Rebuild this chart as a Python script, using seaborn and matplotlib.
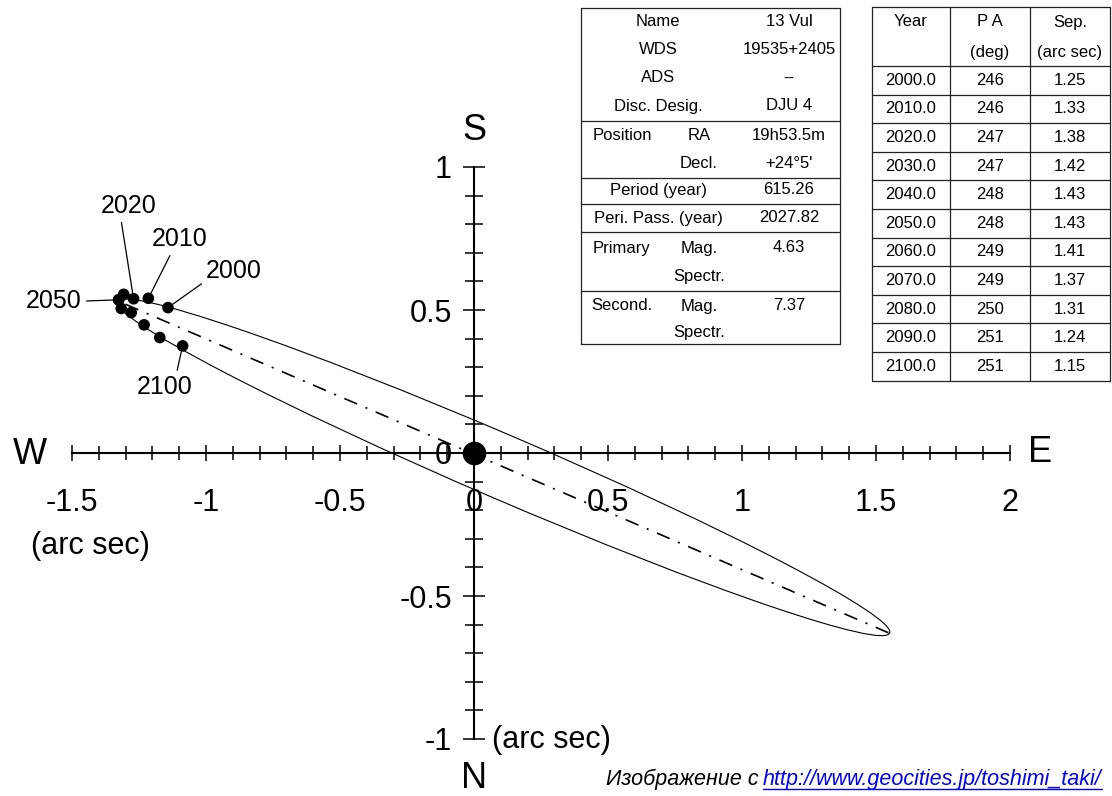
import matplotlib
matplotlib.use("Agg")
import matplotlib.pyplot as plt
from matplotlib.patches import Ellipse
from matplotlib.ticker import FixedLocator
from matplotlib.lines import Line2D
import numpy as np
import pandas as pd
import seaborn as sns

# ephemeris table (right hand side)
years = [2000.0, 2010.0, 2020.0, 2030.0, 2040.0, 2050.0, 2060.0, 2070.0, 2080.0, 2090.0, 2100.0]
pa_deg = [246, 246, 247, 247, 248, 248, 249, 249, 250, 251, 251]
sep_arcsec = [1.25, 1.33, 1.38, 1.42, 1.43, 1.43, 1.41, 1.37, 1.31, 1.24, 1.15]

# star info table
info_left = ["Name", "WDS", "ADS", "Disc. Desig.", "Position", "", "Period (year)",
             "Peri. Pass. (year)", "Primary", "", "Second.", ""]
info_mid = ["", "", "", "", "RA", "Decl.", "", "", "Mag.", "Spectr.", "Mag.", "Spectr."]
info_val = ["13 Vul", "19535+2405", "--", "DJU 4", "19h53.5m", "+24°5'", "615.26",
            "2027.82", "4.63", "", "7.37", ""]

# labelled epochs, label centres in arc sec
label_years = ["2050", "2020", "2010", "2000", "2100"]
label_x = [-1.567, -1.287, -1.097, -0.896, -1.153]
label_y = [0.531, 0.864, 0.748, 0.636, 0.231]

# apparent orbit
orbit_center = (0.11, -0.05)
orbit_major = 3.106
orbit_minor = 0.226
orbit_angle = -21.9
apsides_x = [-1.30, 1.55]
apsides_y = [0.52, -0.63]
primary_x = [0.0]
primary_y = [0.0]

x_major = [-1.5, -1.0, -0.5, 0.0, 0.5, 1.0, 1.5, 2.0]
x_major_labels = ["-1.5", "-1", "-0.5", "0", "0.5", "1", "1.5", "2"]
y_major = [-1.0, -0.5, 0.0, 0.5, 1.0]
y_major_labels = ["-1", "-0.5", "0", "0.5", "1"]

sns.set_style("white")
plt.rcParams["font.family"] = ["Liberation Sans", "DejaVu Sans"]
plt.rcParams["lines.scale_dashes"] = False
plt.rcParams["text.color"] = "black"

W, H = 1112, 796
fig = plt.figure(figsize=(W / 100, H / 100), dpi=100)
ax = fig.add_axes([0, 0, 1, 1])
ax.set_xlim(-474 / 268, (W - 474) / 268)
ax.set_ylim(-(H - 453) / 286, 453 / 286)

# positions: PA counted from N through E, S is up, E is right
pa = np.deg2rad(pa_deg)
sep = np.array(sep_arcsec)
pts = pd.DataFrame({"year": years, "x": sep * np.sin(pa), "y": -sep * np.cos(pa)})

ax.add_patch(Ellipse(orbit_center, orbit_major, orbit_minor, angle=orbit_angle,
                     fill=False, color="black", lw=0.8))
ax.plot(apsides_x, apsides_y, color="black", lw=1.2,
        linestyle=(0, (10, 6.5, 1.5, 6.5)))
sns.scatterplot(data=pts, x="x", y="y", color="black", s=70, edgecolor="none",
                zorder=5, ax=ax, legend=False)
ax.plot(primary_x, primary_y, "o", color="black", ms=16, zorder=6)

# leader lines to labelled epochs
relpos = {"2050": (1, 0.5), "2020": (0.35, 0), "2010": (0.36, 0),
          "2000": (0.0, 0.1), "2100": (0.7, 1)}
for lab, lx, ly in zip(label_years, label_x, label_y):
    row = pts[pts["year"] == float(lab)].iloc[0]
    ax.annotate(lab, xy=(row["x"], row["y"]), xytext=(lx, ly), ha="center", va="center",
                fontsize=18, color="black",
                arrowprops=dict(arrowstyle="-", color="black", lw=0.9,
                                shrinkA=1, shrinkB=4, relpos=relpos[lab]))

# cross shaped axes through the origin
ax.spines[["top", "right"]].set_visible(False)
ax.spines["left"].set_position(("data", 0))
ax.spines["bottom"].set_position(("data", 0))
ax.spines["bottom"].set_bounds(-1.5, 2.0)
ax.spines["left"].set_bounds(-1.0, 1.0)
for s in ("left", "bottom"):
    ax.spines[s].set_linewidth(1.5)
    ax.spines[s].set_color("black")
ax.set_xticks(x_major)
ax.set_xticklabels(x_major_labels)
ax.set_yticks(y_major)
ax.set_yticklabels(y_major_labels)
ax.xaxis.set_minor_locator(FixedLocator(np.round(np.arange(-1.5, 2.01, 0.1), 2)))
ax.yaxis.set_minor_locator(FixedLocator(np.round(np.arange(-1.0, 1.01, 0.1), 2)))
ax.tick_params(axis="x", which="major", direction="inout", length=12, width=1.1, pad=19,
               labelsize=22, bottom=True, top=False, color="black", labelcolor="black")
ax.tick_params(axis="x", which="minor", direction="inout", length=9.4, width=1.1,
               bottom=True, color="black")
ax.tick_params(axis="y", which="major", direction="inout", length=16, width=1.1, pad=8,
               labelsize=22, left=True, right=False, color="black", labelcolor="black")
ax.tick_params(axis="y", which="minor", direction="inout", length=13, width=1.1,
               left=True, color="black")
ax.set_xlabel("")
ax.set_ylabel("")

# overlay in pixel units for compass letters and tables
ov = fig.add_axes([0, 0, 1, 1], facecolor="none")
ov.set_xlim(0, W)
ov.set_ylim(H, 0)
ov.axis("off")

ov.text(30, 455, "W", fontsize=26, ha="center", va="center")
ov.text(1040, 453, "E", fontsize=26, ha="center", va="center")
ov.text(474, 130, "S", fontsize=26, ha="center", va="center")
ov.text(474, 778, "N", fontsize=26, ha="center", va="center")
ov.text(90, 546, "(arc sec)", fontsize=22, ha="center", va="center")
ov.text(551, 740, "(arc sec)", fontsize=22, ha="center", va="center")

tcol = "#222222"
# info table
info_row_y = [22, 49, 78, 106, 135, 164, 190, 218, 248, 276, 306, 333]
for yy in [8, 121, 178, 204, 232, 291, 344]:
    ov.plot([581, 840], [yy, yy], color=tcol, lw=0.9)
for xx in [581, 840]:
    ov.plot([xx, xx], [8, 344], color=tcol, lw=0.9)
for yy, left, mid, val in zip(info_row_y, info_left, info_mid, info_val):
    ov.text(658 if mid == "" else 622, yy, left, fontsize=12, ha="center", va="center")
    ov.text(699, yy, mid, fontsize=12, ha="center", va="center")
    ov.text(789, yy, val, fontsize=12, ha="center", va="center")

# ephemeris table
row_h = 28.6
ov.plot([872, 1110], [7, 7], color=tcol, lw=0.9)
for i in range(len(years) + 1):
    yy = 66 + i * row_h
    ov.plot([872, 1110], [yy, yy], color=tcol, lw=0.9)
for xx in [872, 950, 1030, 1110]:
    ov.plot([xx, xx], [7, 66 + len(years) * row_h], color=tcol, lw=0.9)
ov.text(911, 22, "Year", fontsize=12, ha="center", va="center")
ov.text(990, 22, "P A", fontsize=12, ha="center", va="center")
ov.text(1070, 22, "Sep.", fontsize=12, ha="center", va="center")
ov.text(990, 52, "(deg)", fontsize=12, ha="center", va="center")
ov.text(1070, 52, "(arc sec)", fontsize=12, ha="center", va="center")
for i, (yr, p, s) in enumerate(zip(years, pa_deg, sep_arcsec)):
    yy = 66 + row_h * (i + 0.5)
    ov.text(911, yy, f"{yr:.1f}", fontsize=12, ha="center", va="center")
    ov.text(990, yy, f"{p}", fontsize=12, ha="center", va="center")
    ov.text(1070, yy, f"{s:.2f}", fontsize=12, ha="center", va="center")

# source credit with underlined link
ov.text(759, 779, "Изображение с", fontsize=15.5, style="italic", ha="right", va="center")
link = ov.text(763, 779, "http://www.geocities.jp/toshimi_taki/", fontsize=15.5,
               style="italic", color="#0000ee", ha="left", va="center")
fig.canvas.draw()
bb = link.get_window_extent()
fig.add_artist(Line2D([bb.x0 / W, bb.x1 / W], [(bb.y0 + 1) / H, (bb.y0 + 1) / H],
                      color="#0000ee", lw=1.0, transform=fig.transFigure))

fig.savefig("out.png", dpi=100)
